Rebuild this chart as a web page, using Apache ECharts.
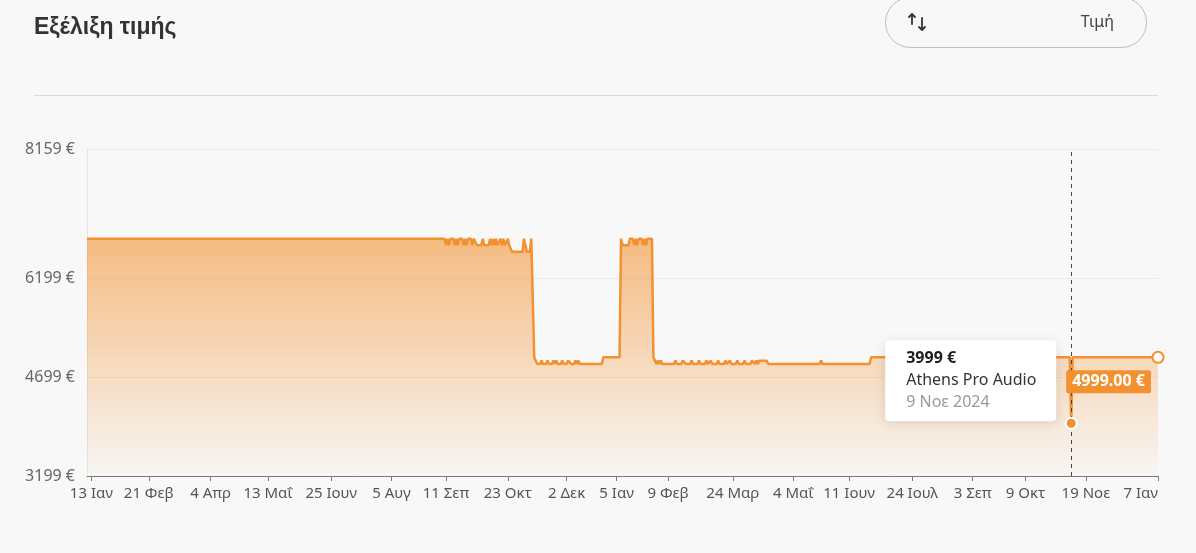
<!DOCTYPE html>
<html><head><meta charset="utf-8">
<script src="https://cdn.jsdelivr.net/npm/echarts@6/dist/echarts.min.js"></script>
<style>
html,body{margin:0;padding:0;background:#f8f8f8;width:1196px;height:553px;overflow:hidden;font-family:"Noto Sans",sans-serif;}
#title{position:absolute;left:34px;top:13px;font:bold 23px "Liberation Sans",Arial,sans-serif;color:#333;}
#sep{position:absolute;left:34px;top:95px;width:1124px;height:1px;background:#dcdcdc;}
#btn{position:absolute;left:885px;top:-3px;width:262px;height:51px;border:1px solid #bdbdbd;border-radius:26px;box-sizing:border-box;}
#btn svg{position:absolute;left:21px;top:13px;}
#btn .lbl{position:absolute;right:32px;top:12px;font-size:16px;color:#444;}
#chart{position:absolute;left:0;top:0;width:1196px;height:553px;}
</style></head>
<body>
<div id="chart"></div>
<div id="title">Εξέλιξη τιμής</div>
<div id="sep"></div>
<div id="btn"><svg width="24" height="22" viewBox="0 0 24 22"><g fill="none" stroke="#333" stroke-width="1.8" stroke-linecap="round" stroke-linejoin="round"><path d="M5 13V3M2 6l3-3 3 3"/><path d="M15 7v12M12 16l3 3 3-3"/></g></svg><span class="lbl">Τιμή</span></div>
<script>
// ---- data ----
const priceDates = [
'2023-01-10','2023-09-10','2023-09-11','2023-09-12','2023-09-13','2023-09-14','2023-09-16','2023-09-17','2023-09-18','2023-09-19','2023-09-20',
'2023-09-22','2023-09-23','2023-09-24','2023-09-25','2023-09-26','2023-09-28','2023-09-29','2023-09-30','2023-10-01',
'2023-10-02','2023-10-05','2023-10-06','2023-10-07','2023-10-10','2023-10-11','2023-10-12','2023-10-13','2023-10-14','2023-10-15',
'2023-10-16','2023-10-17','2023-10-18','2023-10-19','2023-10-20','2023-10-21','2023-10-22','2023-10-23','2023-10-24','2023-10-25',
'2023-10-26','2023-11-02','2023-11-03','2023-11-04','2023-11-05','2023-11-07','2023-11-08','2023-11-09','2023-11-10','2023-11-11',
'2023-11-12','2023-11-14','2023-11-15','2023-11-16','2023-11-18','2023-11-19','2023-11-20','2023-11-22','2023-11-23','2023-11-24',
'2023-11-25','2023-11-26','2023-11-28','2023-11-29','2023-11-30','2023-12-02','2023-12-03','2023-12-04','2023-12-05','2023-12-07',
'2023-12-08','2023-12-09','2023-12-10','2023-12-11','2023-12-26','2023-12-27','2024-01-07','2024-01-08','2024-01-09','2024-01-13',
'2024-01-14','2024-01-16','2024-01-17','2024-01-18','2024-01-19','2024-01-20','2024-01-22','2024-01-23','2024-01-24','2024-01-25',
'2024-01-26','2024-01-29','2024-01-30','2024-01-31','2024-02-01','2024-02-02','2024-02-03','2024-02-04','2024-02-05','2024-02-13',
'2024-02-14','2024-02-15','2024-02-18','2024-02-19','2024-02-20','2024-02-21','2024-02-24','2024-02-25','2024-02-26','2024-02-29',
'2024-03-01','2024-03-02','2024-03-05','2024-03-06','2024-03-07','2024-03-09','2024-03-10','2024-03-13','2024-03-14','2024-03-15',
'2024-03-18','2024-03-19','2024-03-20','2024-03-22','2024-03-23','2024-03-26','2024-03-27','2024-03-28','2024-03-31','2024-04-01',
'2024-04-02','2024-04-05','2024-04-06','2024-04-08','2024-04-09','2024-04-10','2024-04-11','2024-04-16','2024-04-17','2024-05-22',
'2024-05-23','2024-05-24','2024-06-25','2024-06-26','2024-11-08','2024-11-09','2024-11-10','2025-01-07'
];
const priceValues = [
6799,6799,6699,6799,6699,6799,6799,6699,6799,6699,6799,
6799,6699,6799,6699,6799,6799,6699,6799,6799,
6699,6699,6799,6699,6699,6799,6699,6799,6699,6799,
6699,6699,6799,6699,6799,6699,6699,6799,6699,6699,
6599,6599,6799,6799,6599,6599,6799,6799,4999,4999,
4899,4899,4949,4899,4899,4949,4899,4899,4949,4899,
4949,4899,4899,4949,4899,4899,4949,4949,4899,4899,
4949,4899,4949,4899,4899,4999,4999,6799,6699,6699,
6799,6799,6699,6799,6699,6799,6799,6699,6799,6699,
6799,6799,4999,4949,4899,4949,4899,4949,4899,4899,
4949,4899,4899,4949,4949,4899,4899,4949,4899,4899,
4949,4899,4899,4949,4899,4949,4899,4899,4949,4899,
4899,4949,4899,4949,4899,4899,4949,4899,4899,4949,
4899,4899,4949,4899,4949,4899,4949,4949,4899,4899,
4949,4899,4899,4999,4999,3999,4999,4999
];
const axisStart = '2023-01-10';
const axisEnd = '2025-01-07';
const xTickDates = ['2023-01-13','2023-02-21','2023-04-04','2023-05-13','2023-06-25','2023-08-05','2023-09-11','2023-10-23','2023-12-02',
  '2024-01-05','2024-02-09','2024-03-24','2024-05-04','2024-06-11','2024-07-24','2024-09-03','2024-10-09','2024-11-19','2025-01-07'];
const yTickValues = [3199, 4699, 6199, 8159];
const yMin = 3199, yMax = 8159;
const monthNames = ['Ιαν','Φεβ','Μαρ','Απρ','Μαΐ','Ιουν','Ιουλ','Αυγ','Σεπ','Οκτ','Νοε','Δεκ'];
const hoverDate = '2024-11-09';
const hoverPrice = 3999;
const hoverStore = 'Athens Pro Audio';
const currentPrice = 4999;

// ---- helpers ----
function ts(s){ const p = s.split('-').map(Number); return new Date(p[0], p[1]-1, p[2]).getTime(); }
function fmtShort(v){ const d = new Date(v); return d.getDate() + ' ' + monthNames[d.getMonth()]; }
function fmtLong(v){ const d = new Date(v); return d.getDate() + ' ' + monthNames[d.getMonth()] + ' ' + d.getFullYear(); }

const ORANGE = '#F39130';
const FONT = '"Noto Sans", sans-serif';
const seriesData = priceDates.map((d, i) => [ts(d), priceValues[i]]);
const lastPoint = seriesData[seriesData.length - 1];
const xTicks = xTickDates.map(ts);

const chart = echarts.init(document.getElementById('chart'), null, {renderer: 'canvas'});
chart.setOption({
  animation: false,
  backgroundColor: 'transparent',
  textStyle: {fontFamily: FONT},
  grid: {left: 87, right: 38, top: 149, bottom: 77, containLabel: false},
  xAxis: {
    type: 'value', min: ts(axisStart), max: ts(axisEnd), scale: true,
    axisLine: {show: true, lineStyle: {color: '#777', width: 1}},
    axisTick: {show: true, customValues: xTicks, length: 5, lineStyle: {color: '#777'}},
    axisLabel: {customValues: xTicks, formatter: fmtShort, color: '#555', fontSize: 15, margin: 10,
      alignMaxLabel: 'right', hideOverlap: false},
    splitLine: {show: false}
  },
  yAxis: {
    type: 'value', min: yMin, max: yMax,
    axisLine: {show: true, lineStyle: {color: '#e6e6e6'}},
    axisTick: {show: false, customValues: yTickValues},
    axisLabel: {customValues: yTickValues, formatter: v => v + ' €', color: '#666', fontSize: 16, margin: 12},
    splitLine: {show: true, lineStyle: {color: '#ebebeb'}}
  },
  series: [{
    type: 'line', data: seriesData, symbol: 'none', silent: true, z: 2,
    lineStyle: {color: ORANGE, width: 2.5},
    itemStyle: {color: ORANGE},
    areaStyle: {color: new echarts.graphic.LinearGradient(0, 0, 0, 1, [
      {offset: 0, color: 'rgba(243,145,48,0.85)'},
      {offset: 1, color: 'rgba(243,145,48,0.03)'}
    ])},
    markLine: {
      silent: true, symbol: 'none', label: {show: false},
      lineStyle: {color: '#444', type: [4, 4], width: 1},
      data: [{xAxis: ts(hoverDate)}]
    },
    markPoint: {
      z: 6, silent: true,
      data: [
        {coord: [ts(hoverDate), hoverPrice], symbol: 'rect', symbolSize: 1, itemStyle: {color: 'transparent'},
          label: {show: true, position: 'inside', align: 'left', verticalAlign: 'top', offset: [-186, -83],
            backgroundColor: '#fff', borderRadius: 4, padding: [7, 20, 8, 21], width: 130,
            shadowBlur: 12, shadowColor: 'rgba(0,0,0,0.12)', shadowOffsetY: 2,
            formatter: '{a|' + hoverPrice + ' €}\n{b|' + hoverStore + '}\n{c|' + fmtLong(ts(hoverDate)) + '}',
            rich: {
              a: {fontWeight: 'bold', fontSize: 16, color: '#1e1e1e', lineHeight: 22, fontFamily: FONT},
              b: {fontSize: 16, color: '#333', lineHeight: 22, fontFamily: FONT},
              c: {fontSize: 16, color: '#999', lineHeight: 22, fontFamily: FONT}
            }}},
        {coord: [ts(hoverDate), hoverPrice], symbol: 'circle', symbolSize: 11,
          itemStyle: {color: ORANGE, borderColor: '#fff', borderWidth: 2}, label: {show: false}},
        {coord: [ts(hoverDate), currentPrice], symbol: 'rect', symbolSize: 1, itemStyle: {color: 'transparent'},
          label: {show: true, position: 'inside', align: 'left', verticalAlign: 'top', offset: [-5, 13],
            backgroundColor: ORANGE, color: '#fff', fontWeight: 'bold', fontSize: 16, lineHeight: 17,
            padding: [3, 6, 3, 6], borderRadius: 2, fontFamily: FONT,
            formatter: currentPrice.toFixed(2) + ' €'}},
        {coord: lastPoint, symbol: 'circle', symbolSize: 11,
          itemStyle: {color: '#fff', borderColor: ORANGE, borderWidth: 2}, label: {show: false}}
      ]
    }
  }]
});
</script>
</body></html>
